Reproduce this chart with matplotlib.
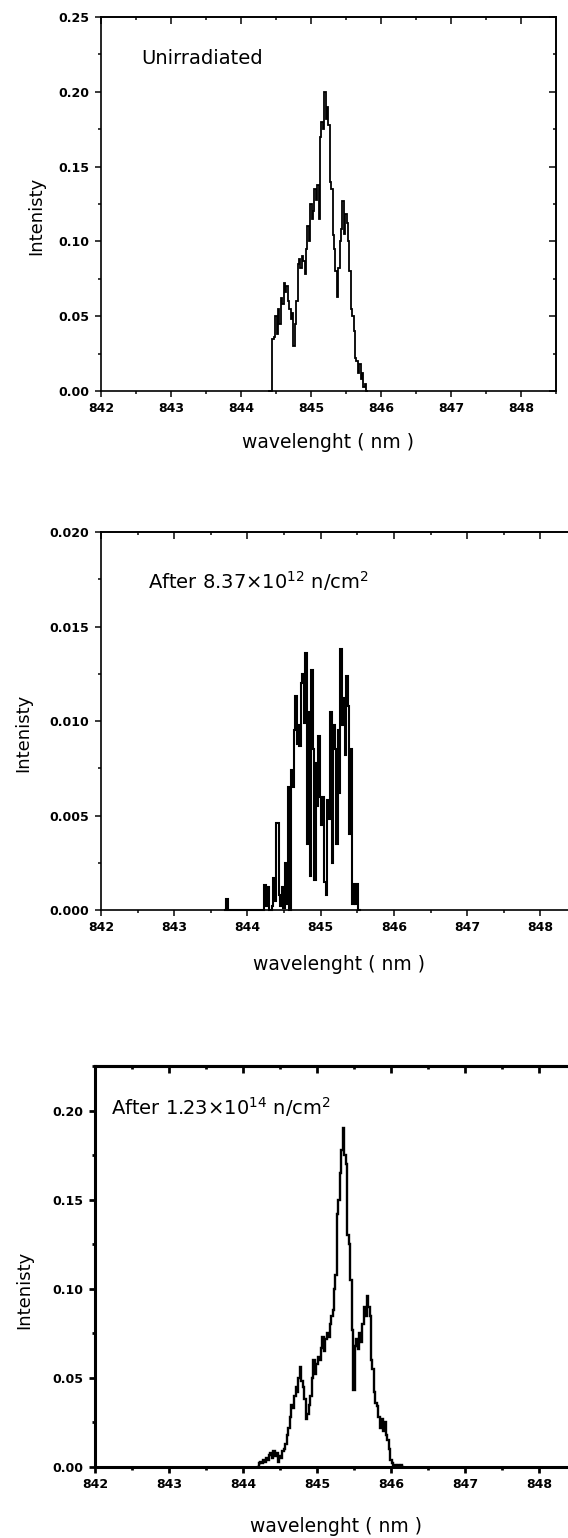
import numpy as np
import matplotlib.pyplot as plt
from matplotlib.ticker import MultipleLocator, FormatStrFormatter

plt.rcParams['font.family'] = ['DejaVu Sans']

# ====================== data ======================
step = 0.02  # nm between samples

# Unirradiated
unirr_start = 844.40
unirr_int = [0.0, 0.0, 0.0, 0.035, 0.036, 0.050, 0.038, 0.055, 0.045, 0.062,
             0.058, 0.072, 0.066, 0.070, 0.060, 0.055, 0.048, 0.052, 0.030, 0.045,
             0.060, 0.085, 0.088, 0.082, 0.090, 0.087, 0.078, 0.095, 0.110, 0.100,
             0.125, 0.115, 0.120, 0.135, 0.128, 0.138, 0.115, 0.170, 0.180, 0.175,
             0.200, 0.182, 0.190, 0.178, 0.140, 0.135, 0.104, 0.095, 0.080, 0.063,
             0.082, 0.100, 0.108, 0.127, 0.105, 0.118, 0.112, 0.100, 0.080, 0.055,
             0.050, 0.040, 0.022, 0.020, 0.012, 0.018, 0.008, 0.012, 0.003, 0.005,
             0.0]

# After 8.37e12 n/cm2
low_spur_wl = [843.70, 843.72, 843.74]
low_spur_int = [0.0, 0.0006, 0.0]
low_start = 844.20
low_int = [0.0, 0.0, 0.0013, 0.0002, 0.0012, 0.0, 0.0, 0.0002, 0.0017, 0.0005,
           0.0046, 0.0046, 0.0008, 0.0002, 0.0012, 0.0001, 0.0025, 0.0003, 0.0065, 0.0,
           0.0074, 0.0065, 0.0095, 0.0113, 0.0088, 0.0098, 0.0087, 0.0120, 0.0125, 0.0099,
           0.0136, 0.0035, 0.0105, 0.0018, 0.0127, 0.0085, 0.0016, 0.0078, 0.0055, 0.0092,
           0.0060, 0.0045, 0.0060, 0.0015, 0.0008, 0.0058, 0.0048, 0.0105, 0.0025, 0.0098,
           0.0085, 0.0035, 0.0095, 0.0062, 0.0138, 0.0098, 0.0112, 0.0082, 0.0124, 0.0108,
           0.0040, 0.0085, 0.0003, 0.0014, 0.0003, 0.0014, 0.0, 0.0]

# After 1.23e14 n/cm2
high_start = 844.20
high_int = [0.0, 0.002, 0.003, 0.002, 0.004, 0.003, 0.005, 0.004, 0.007, 0.008,
            0.005, 0.009, 0.006, 0.008, 0.003, 0.006, 0.005, 0.009, 0.010, 0.013,
            0.018, 0.022, 0.028, 0.035, 0.033, 0.040, 0.045, 0.042, 0.050, 0.056,
            0.048, 0.045, 0.038, 0.027, 0.030, 0.035, 0.040, 0.050, 0.060, 0.052,
            0.058, 0.062, 0.060, 0.067, 0.073, 0.065, 0.072, 0.075, 0.073, 0.080,
            0.085, 0.088, 0.100, 0.108, 0.142, 0.150, 0.165, 0.178, 0.190, 0.175,
            0.170, 0.130, 0.125, 0.105, 0.077, 0.043, 0.068, 0.072, 0.066, 0.075,
            0.070, 0.080, 0.090, 0.085, 0.096, 0.090, 0.085, 0.060, 0.055, 0.042,
            0.036, 0.034, 0.028, 0.022, 0.027, 0.020, 0.025, 0.018, 0.015, 0.010,
            0.004, 0.002, 0.0, 0.001, 0.0, 0.001, 0.0, 0.001, 0.0]

labels = ['Unirradiated',
          r'After 8.37$\times$10$^{12}$ n/cm$^{2}$',
          r'After 1.23$\times$10$^{14}$ n/cm$^{2}$']


def grid(start, values):
    return start + step * np.arange(len(values))


wl_unirr = grid(unirr_start, unirr_int)
wl_low = np.concatenate([low_spur_wl, grid(low_start, low_int)])
int_low = np.concatenate([low_spur_int, low_int])
wl_high = grid(high_start, high_int)

# ====================== figure ======================
W, H = 568, 1538
fig = plt.figure(figsize=(W / 100, H / 100), dpi=100)


def px_axes(left, right, top, bottom):
    return fig.add_axes([left / W, 1 - bottom / H, (right - left) / W, (bottom - top) / H])


panels = [
    dict(box=(101, 556, 17, 391), x=wl_unirr, y=unirr_int, ylim=0.25, ymaj=0.05,
         ymin=0.025, fmt='%.2f', spine=1.2, lw=1.3, label=labels[0], txt=(141, 59),
         ylab=(36, 216), xlab_y=443),
    dict(box=(101, 577, 532, 910), x=wl_low, y=int_low, ylim=0.020, ymaj=0.005,
         ymin=0.0025, fmt='%.3f', spine=1.2, lw=1.5, label=labels[1], txt=(148, 581),
         ylab=(23, 733), xlab_y=965),
    dict(box=(95, 576, 1066, 1467), x=wl_high, y=high_int, ylim=0.225, ymaj=0.05,
         ymin=0.025, fmt='%.2f', spine=2.2, lw=1.7, label=labels[2], txt=(111, 1107),
         ylab=(24, 1290), xlab_y=1526),
]

for p in panels:
    l, r, t, b = p['box']
    ax = px_axes(l, r, t, b)
    ax.plot(p['x'], p['y'], color='black', lw=p['lw'], drawstyle='steps-mid',
            solid_joinstyle='miter', clip_on=False)
    ax.set_xlim(842, 848.5)
    ax.set_ylim(0, p['ylim'])
    ax.xaxis.set_major_locator(MultipleLocator(1))
    ax.xaxis.set_minor_locator(MultipleLocator(0.5))
    ax.yaxis.set_major_locator(MultipleLocator(p['ymaj']))
    ax.yaxis.set_minor_locator(MultipleLocator(p['ymin']))
    ax.yaxis.set_major_formatter(FormatStrFormatter(p['fmt']))
    ax.xaxis.set_major_formatter(FormatStrFormatter('%d'))
    ax.tick_params(which='both', direction='out', top=False, right=False,
                   width=p['spine'] * 0.9, labelsize=9)
    ax.tick_params(which='major', length=4)
    ax.tick_params(which='minor', length=2)
    ax.tick_params(axis='x', which='major', pad=4)
    ax.tick_params(axis='y', which='major', pad=4.5)
    for tl in ax.get_xticklabels() + ax.get_yticklabels():
        tl.set_fontweight('bold')
    for s in ax.spines.values():
        s.set_linewidth(p['spine'])

    # mirrored top / right axes with inward ticks
    top = ax.secondary_xaxis('top')
    top.xaxis.set_major_locator(MultipleLocator(1))
    top.xaxis.set_minor_locator(MultipleLocator(0.5))
    top.tick_params(which='both', direction='in', labeltop=False, width=p['spine'] * 0.9)
    top.tick_params(which='major', length=5)
    top.tick_params(which='minor', length=2.5)
    top.spines['top'].set_linewidth(p['spine'])
    rgt = ax.secondary_yaxis('right')
    rgt.yaxis.set_major_locator(MultipleLocator(p['ymaj']))
    rgt.yaxis.set_minor_locator(MultipleLocator(p['ymin']))
    rgt.tick_params(which='both', direction='in', labelright=False, width=p['spine'] * 0.9)
    rgt.tick_params(which='major', length=5)
    rgt.tick_params(which='minor', length=2.5)
    rgt.spines['right'].set_linewidth(p['spine'])

    fig.text(p['txt'][0] / W, 1 - p['txt'][1] / H, p['label'], fontsize=14,
             ha='left', va='center')
    fig.text(p['ylab'][0] / W, 1 - p['ylab'][1] / H, 'Intenisty', fontsize=13,
             rotation=90, ha='center', va='center')
    fig.text((l + r) / 2 / W, 1 - p['xlab_y'] / H, 'wavelenght ( nm )',
             fontsize=13.5, ha='center', va='center')

fig.savefig('out.png', dpi=100)
